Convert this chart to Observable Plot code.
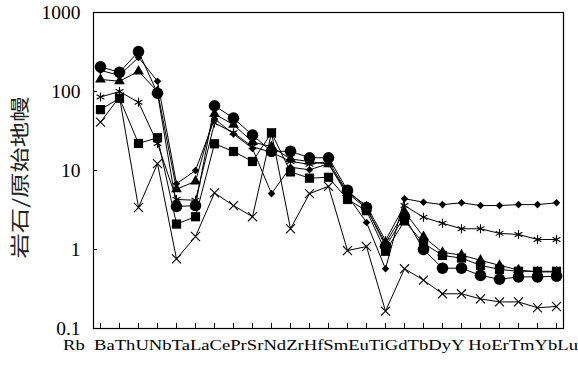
<!DOCTYPE html>
<html><head><meta charset="utf-8">
<script src="https://cdn.jsdelivr.net/npm/d3@7"></script>
<script src="https://cdn.jsdelivr.net/npm/@observablehq/plot@0.6"></script>
<style>body{margin:0;background:#fff}</style>
</head><body><div id="chart"></div>
<script>
const elements = ["Rb","Ba","Th","U","Nb","Ta","La","Ce","Pr","Sr","Nd","Zr","Hf","Sm","Eu","Ti","Gd","Tb","Dy","Y","Ho","Er","Tm","Yb","Lu"];
const tickLabels = ["Rb  ","Ba","Th","U","Nb","Ta","La","Ce","Pr","Sr","Nd","Zr","Hf","Sm","Eu","Ti","Gd","Tb","Dy","Y ","Ho","Er","Tm","Yb","Lu"];
const yTicks = [0.1, 1, 10, 100, 1000];
const yTickLabels = ["0.1", "1", "10", "100", "1000"];
const yLabel = "岩石/原始地幔";

const circleValues   = [205,175,320,95,3.5,3.6,66,46,28,17.5,17.5,14.5,14.5,5.6,3.4,1.1,2.6,1.0,0.58,0.58,0.47,0.42,0.45,0.45,0.46];
const triangleValues = [142,135,180,100,5.8,7.3,52,38,23,20,14,13,12,5.2,3.3,1.2,3.0,1.45,0.92,0.85,0.73,0.63,0.55,0.52,0.52];
const diamondValues  = [185,160,270,135,6.8,10,45,29,19,5.1,11,10.2,12.2,4.8,2.2,0.57,4.4,3.97,3.7,3.9,3.6,3.6,3.7,3.7,3.9];
const squareValues   = [59,82,22,26,2.1,2.6,21.8,17.4,13,30,9.6,8.0,8.2,4.3,3.1,0.95,2.3,1.2,0.84,0.78,0.63,0.56,0.53,0.53,0.53];
const asteriskValues = [85,100,73,22,4.3,4.2,40,30,20,17,13,12,13,5.3,3.6,1.3,3.6,2.56,2.15,1.83,1.83,1.6,1.55,1.34,1.34];
const crossValues    = [41,85,3.4,12.2,0.76,1.46,5.2,3.6,2.6,30,1.83,5.1,6.3,0.97,1.09,0.166,0.57,0.41,0.275,0.275,0.237,0.217,0.217,0.183,0.19];

const series = [
  {name: "cross",    symbol: "times",    filled: false, r: 4.2, values: crossValues},
  {name: "asterisk", symbol: "asterisk", filled: false, r: 4.2, values: asteriskValues},
  {name: "square",   symbol: "square",   filled: true,  r: 5.2, values: squareValues},
  {name: "diamond",  symbol: "diamond2", filled: true,  r: 3.4, values: diamondValues},
  {name: "triangle", symbol: "triangle", filled: true,  r: 4.0, values: triangleValues},
  {name: "circle",   symbol: "circle",   filled: true,  r: 5.8, values: circleValues}
];
const rows = series.flatMap(s => s.values.map((v, i) => ({series: s.name, element: elements[i], value: v})));
const labelStr = tickLabels.join("");

const chart = Plot.plot({
  width: 578, height: 366,
  marginLeft: 93, marginRight: 15, marginTop: 12, marginBottom: 38,
  style: {fontFamily: "'Liberation Serif', 'Times New Roman', serif", background: "#fff", color: "#000"},
  x: {type: "point", domain: elements, padding: 0},
  y: {type: "log", domain: [0.1, 1000]},
  marks: [
    Plot.frame({stroke: "#000", strokeWidth: 1.2}),
    Plot.axisY(yTicks, {tickSize: -4, tickPadding: 17, tickFormat: d => yTickLabels[yTicks.indexOf(d)], fontSize: 19.5, label: null, stroke: "#000"}),
    Plot.axisX({tickSize: -5, tickFormat: () => "", label: null, stroke: "#000"}),
    Plot.line(rows, {x: "element", y: "value", z: "series", stroke: "#000", strokeWidth: 1}),
    ...series.map(s => Plot.dot(rows.filter(r => r.series === s.name), {
      x: "element", y: "value", symbol: s.symbol, r: s.r,
      fill: s.filled ? "#000" : "none",
      stroke: s.filled ? "none" : "#000",
      strokeWidth: 1.1
    })),
    Plot.text([labelStr], {frameAnchor: "bottom", dy: 21, dx: -8, text: d => d, fontSize: 15, fill: "#000"}),
    Plot.text([yLabel], {frameAnchor: "left", textAnchor: "middle", dx: -73, dy: 7, rotate: -90, text: d => d, fontSize: 19, fontFamily: "'Noto Sans CJK SC', sans-serif", fill: "#222"})
  ]
});
document.getElementById("chart").appendChild(chart);
const svg = d3.select(chart);
svg.selectAll("text").filter(function() { return this.textContent === labelStr; })
  .attr("textLength", 515).attr("lengthAdjust", "spacingAndGlyphs");
svg.selectAll("text").filter(function() { return this.textContent === yLabel; })
  .attr("textLength", 162).attr("lengthAdjust", "spacingAndGlyphs");
</script>
</body></html>
